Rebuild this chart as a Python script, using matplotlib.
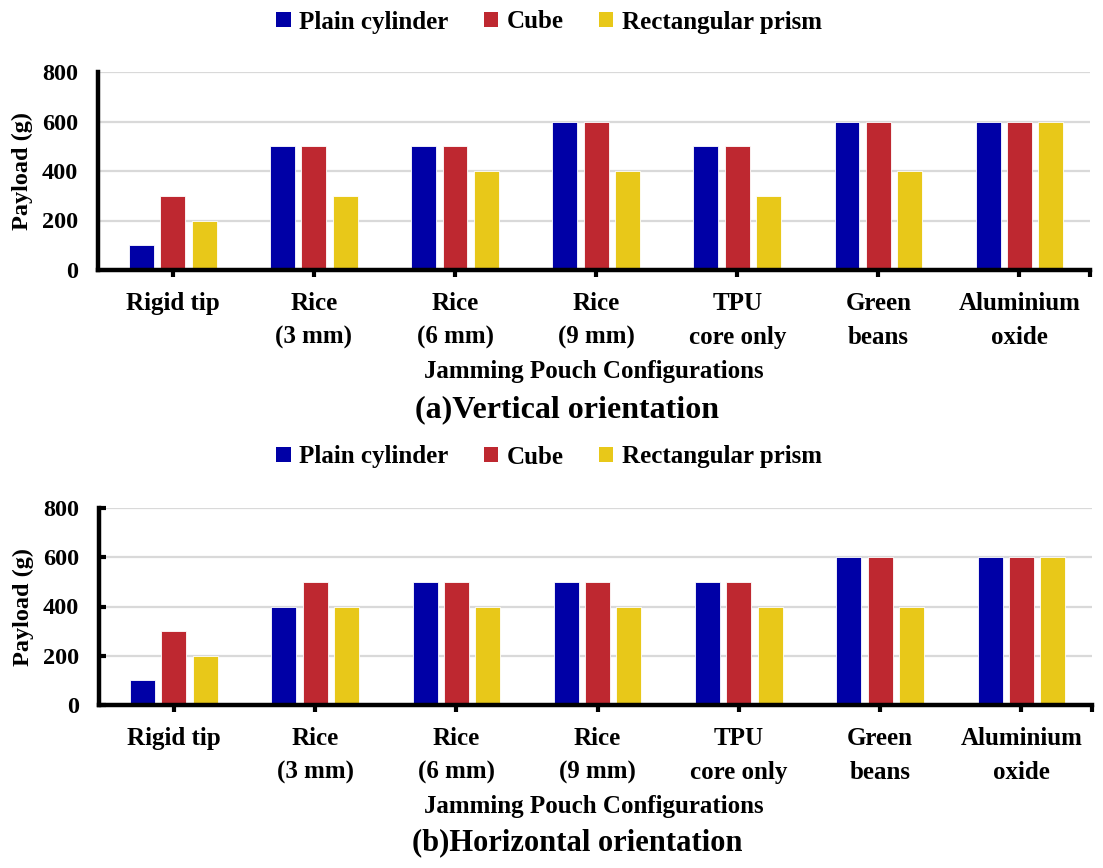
import matplotlib
matplotlib.use("Agg")
import matplotlib.pyplot as plt
import numpy as np
from matplotlib.patches import Patch

categories = ["Rigid tip", "Rice\n(3 mm)", "Rice\n(6 mm)", "Rice\n(9 mm)",
              "TPU\ncore only", "Green\nbeans", "Aluminium\noxide"]
series_names = ["Plain cylinder", "Cube", "Rectangular prism"]

vertical_cylinder = [100, 500, 500, 600, 500, 600, 600]
vertical_cube = [300, 500, 500, 600, 500, 600, 600]
vertical_prism = [200, 300, 400, 400, 300, 400, 600]

horizontal_cylinder = [100, 400, 500, 500, 500, 600, 600]
horizontal_cube = [300, 500, 500, 500, 500, 600, 600]
horizontal_prism = [200, 400, 400, 400, 400, 400, 600]

y_ticks = [0, 200, 400, 600, 800]
colors = ["#0000A6", "#BE2830", "#E8C819"]

FONT = ["Liberation Serif", "DejaVu Serif"]
plt.rcParams["font.family"] = FONT
plt.rcParams["font.weight"] = "bold"

fig = plt.figure(figsize=(11.03, 8.68), dpi=100)
W, H = 1103, 868

def make_axes(top_px, bottom_px, left_px, right_px):
    return fig.add_axes([left_px / W, 1 - bottom_px / H,
                         (right_px - left_px) / W, (bottom_px - top_px) / H])

panels = [
    (make_axes(72, 270, 98, 1090), [vertical_cylinder, vertical_cube, vertical_prism],
     "(a)Vertical orientation", 22, 371, 410, 567, 23, "top"),
    (make_axes(508, 705, 99, 1092), [horizontal_cylinder, horizontal_cube, horizontal_prism],
     "(b)Horizontal orientation", 457, 806, 843, 577, 22, "bottom"),
]

x = np.arange(len(categories))
bw = 0.177
step = 0.222

for ax, data, title, leg_y, xl_y, title_y, title_x, title_fs, which in panels:
    for i, (vals, c) in enumerate(zip(data, colors)):
        ax.bar(x + (i - 1) * step, vals, width=bw, color=c, edgecolor="white",
               linewidth=0.6, zorder=3)
    ax.set_xlim(-0.53, 6.5)
    ax.set_ylim(0, 800)
    ax.set_yticks(y_ticks)
    ax.set_yticklabels([str(v) for v in y_ticks], fontsize=17.5, fontweight="bold")
    ax.set_xticks(x)
    ax.set_xticklabels(categories, fontsize=18, fontweight="bold", linespacing=1.6)
    ax.set_xticks([6.5], minor=True)
    ax.tick_params(axis="x", which="minor", direction="out", length=5, width=3)
    ax.grid(axis="y", color="#D9D9D9", linewidth=1.6, zorder=0)
    ax.set_axisbelow(True)
    for s in ["top", "right"]:
        ax.spines[s].set_visible(False)
    for s in ["left", "bottom"]:
        ax.spines[s].set_linewidth(3.2)
        ax.spines[s].set_zorder(5)
    ax.tick_params(axis="x", which="major", direction="out", length=5, width=3, pad=11)
    if which == "top":
        ax.tick_params(axis="y", which="major", length=0, pad=14.5)
        ax.set_yticks([0, 800], minor=True)
        ax.tick_params(axis="y", which="minor", direction="out", length=5, width=3)
    else:
        ax.tick_params(axis="y", direction="in", length=5, width=3, pad=14.5)
    ax.set_ylabel("Payload (g)", fontsize=17.5, fontweight="bold", labelpad=6)
    fig.text(594 / W, 1 - xl_y / H, "Jamming Pouch Configurations",
             ha="center", va="center", fontsize=18, fontweight="bold")
    fig.text(title_x / W, 1 - title_y / H, title, ha="center", va="center",
             fontsize=title_fs, fontweight="bold")
    handles = [Patch(facecolor=c, edgecolor="none") for c in colors]
    fig.legend(handles, series_names, loc="center", bbox_to_anchor=(549 / W, 1 - leg_y / H),
               ncol=3, frameon=False, handlelength=0.58, handleheight=0.58,
               handletextpad=0.35, columnspacing=1.4, borderpad=0.2,
               prop={"weight": "bold", "size": 18})

fig.savefig("out.png", dpi=100)
